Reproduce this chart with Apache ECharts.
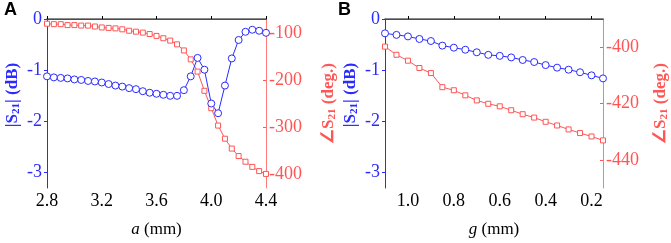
<!DOCTYPE html>
<html>
<head>
<meta charset="utf-8">
<script src="https://cdn.jsdelivr.net/npm/echarts@6/dist/echarts.min.js"></script>
<style>
  html, body { margin: 0; padding: 0; background: #fff; }
  #chart { width: 671px; height: 243px; }
</style>
</head>
<body>
<div id="chart"></div>
<script>
// panel A: sweep of a (mm)
var aValues = [2.8, 2.85, 2.9, 2.95, 3.0, 3.05, 3.1, 3.15, 3.2, 3.25, 3.3, 3.35, 3.4, 3.45, 3.5, 3.55,
  3.6, 3.65, 3.7, 3.75, 3.8, 3.85, 3.9, 3.95, 4.0, 4.05, 4.1, 4.15, 4.2, 4.25, 4.3, 4.35, 4.4];
var aMag = [-1.12, -1.14, -1.15, -1.16, -1.18, -1.19, -1.21, -1.22, -1.24, -1.27, -1.30, -1.32, -1.35, -1.37, -1.41, -1.44,
  -1.46, -1.48, -1.50, -1.50, -1.39, -1.12, -0.76, -0.99, -1.65, -1.84, -1.30, -0.77, -0.41, -0.25, -0.21, -0.23, -0.27];
var aPhase = [-80, -81, -81, -83, -83, -84, -84, -86, -88, -89, -90, -92, -95, -97, -99, -102,
  -106, -111, -116, -124, -137, -156, -182, -223, -260, -297, -325, -346, -362, -374, -385, -394, -400];

// panel B: sweep of g (mm)
var gValues = [1.1, 1.05, 1.0, 0.95, 0.9, 0.85, 0.8, 0.75, 0.7, 0.65, 0.6, 0.55, 0.5, 0.45, 0.4, 0.35, 0.3, 0.25, 0.2, 0.15];
var gMag = [-0.28, -0.31, -0.34, -0.39, -0.43, -0.52, -0.56, -0.60, -0.65, -0.70, -0.72, -0.75, -0.80, -0.84, -0.90, -0.95, -0.99, -1.04, -1.10, -1.16];
var gPhase = [-399.8, -402.7, -404.8, -407.4, -409.2, -414.2, -415.3, -417.1, -418.9, -420.1, -421.0, -422.4, -423.8, -425.0, -426.5, -427.8, -429.2, -430.5, -431.7, -433.1];

// tick labels
var aTicks = [2.8, 3.2, 3.6, 4.0, 4.4];
var gTicks = [1.0, 0.8, 0.6, 0.4, 0.2];
var magTicks = [0, -1, -2, -3];
var aPhaseTicks = [-100, -200, -300, -400];
var gPhaseTicks = [-400, -420, -440];

var BLUE = '#2b2bff';
var RED = '#ff5555';
var FONT = 'Liberation Serif';

function pairs(xs, ys) {
  return xs.map(function (x, i) { return [x, ys[i]]; });
}

function richColor(c) {
  return {
    b: { fontFamily: FONT, fontWeight: 'bold', fontSize: 17, color: c },
    s: { fontFamily: FONT, fontWeight: 'bold', fontSize: 11, color: c, padding: [8, 0, 0, 0] }
  };
}

function bottomAxis(gridIndex, min, max, ticks, name, inverse) {
  return {
    type: 'value', gridIndex: gridIndex, position: 'bottom', min: min, max: max, inverse: inverse,
    splitLine: { show: false },
    axisLine: { lineStyle: { color: '#000', width: 1 } },
    axisTick: { inside: true, length: 3, customValues: ticks, lineStyle: { color: '#000' } },
    axisLabel: {
      customValues: ticks, color: '#000', fontFamily: FONT, fontSize: 18, margin: 4,
      formatter: function (v) { return v.toFixed(1); }
    },
    name: name, nameLocation: 'middle', nameGap: 33,
    nameTextStyle: {
      color: '#000', fontFamily: FONT, fontSize: 17,
      rich: {
        i: { fontFamily: FONT, fontSize: 17, fontStyle: 'italic', color: '#000' },
        n: { fontFamily: FONT, fontSize: 17, color: '#000' }
      }
    }
  };
}
function topAxis(gridIndex, min, max, inverse) {
  return {
    type: 'value', gridIndex: gridIndex, position: 'top', min: min, max: max, inverse: inverse,
    splitLine: { show: false },
    axisLine: { lineStyle: { color: '#666', width: 1.5 } },
    axisTick: { show: false }, axisLabel: { show: false }
  };
}
function magAxis(gridIndex) {
  return {
    type: 'value', gridIndex: gridIndex, position: 'left', min: -3.3, max: 0,
    splitLine: { show: false },
    axisLine: { show: true, lineStyle: { color: BLUE, width: 1 } },
    axisTick: { show: true, length: 3, customValues: magTicks, lineStyle: { color: BLUE } },
    axisLabel: { customValues: magTicks, color: BLUE, fontFamily: FONT, fontSize: 18, margin: 5 },
    // leading spaces push the title a little above the middle, as in the figure
    name: '{b|    |S}{s|21}{b|| (dB)}', nameLocation: 'middle', nameGap: 25,
    nameTextStyle: { rich: richColor(BLUE) }
  };
}
function phaseAxis(gridIndex, min, max, ticks, gap) {
  return {
    type: 'value', gridIndex: gridIndex, position: 'right', min: min, max: max,
    splitLine: { show: false },
    axisLine: { show: true, lineStyle: { color: '#ff7b7b', width: 1 } },
    axisTick: { show: true, inside: true, length: 3, customValues: ticks, lineStyle: { color: RED } },
    axisLabel: { customValues: ticks, color: RED, fontFamily: FONT, fontSize: 18, margin: 3 },
    name: '{b|∠S}{s|21}{b| (deg.)}', nameLocation: 'middle', nameGap: gap,
    nameTextStyle: { rich: richColor(RED) }
  };
}
function circleSeries(x, y, data) {
  return {
    type: 'line', xAxisIndex: x, yAxisIndex: y, data: data,
    symbol: 'circle', symbolSize: 7, showSymbol: true,
    lineStyle: { color: BLUE, width: 1 },
    itemStyle: { color: '#fff', borderColor: BLUE, borderWidth: 1 },
    clip: false, animation: false
  };
}
function squareSeries(x, y, data) {
  return {
    type: 'line', xAxisIndex: x, yAxisIndex: y, data: data,
    symbol: 'rect', symbolSize: 5, showSymbol: true,
    lineStyle: { color: RED, width: 1 },
    itemStyle: { color: '#fff', borderColor: RED, borderWidth: 1 },
    clip: false, animation: false
  };
}

var chart = echarts.init(document.getElementById('chart'));
chart.setOption({
  animation: false,
  backgroundColor: '#fff',
  textStyle: { fontFamily: FONT },
  grid: [
    { left: 47, right: 405, top: 19, bottom: 54 },
    { left: 385, right: 66, top: 19, bottom: 54 }
  ],
  graphic: [
    { type: 'text', left: 4, top: 1, style: { text: 'A', fontFamily: 'Liberation Sans', fontWeight: 'bold', fontSize: 18, fill: '#000' } },
    { type: 'text', left: 338, top: 1, style: { text: 'B', fontFamily: 'Liberation Sans', fontWeight: 'bold', fontSize: 18, fill: '#000' } }
  ],
  xAxis: [
    bottomAxis(0, 2.8, 4.4, aTicks, '{i|a}{n| (mm)}', false),
    topAxis(0, 2.8, 4.4, false),
    bottomAxis(1, 0.15, 1.1, gTicks, '{i|g}{n| (mm)}', true),
    topAxis(1, 0.15, 1.1, true)
  ],
  yAxis: [
    magAxis(0),
    phaseAxis(0, -430, -70, aPhaseTicks, 53),
    magAxis(1),
    phaseAxis(1, -450, -390, gPhaseTicks, 48)
  ],
  series: [
    squareSeries(0, 1, pairs(aValues, aPhase)),
    circleSeries(0, 0, pairs(aValues, aMag)),
    squareSeries(2, 3, pairs(gValues, gPhase)),
    circleSeries(2, 2, pairs(gValues, gMag))
  ]
});
window.addEventListener('resize', function () { chart.resize(); });
</script>
</body>
</html>
